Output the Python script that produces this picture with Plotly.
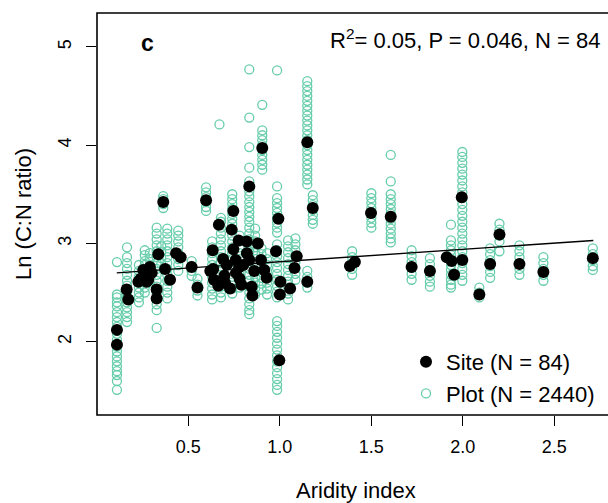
import plotly.graph_objects as go

# ---- Site means (black dots) ----
site_x = [0.11, 0.11, 0.163, 0.172, 0.227, 0.254, 0.263, 0.281, 0.272, 0.29,
          0.327, 0.327, 0.336, 0.363, 0.373, 0.40, 0.433, 0.458, 0.518, 0.55,
          0.597, 0.633, 0.636, 0.64, 0.664, 0.667, 0.69, 0.697, 0.728, 0.737,
          0.746, 0.746, 0.759, 0.775, 0.778, 0.78, 0.79, 0.819, 0.833, 0.833,
          0.846, 0.85, 0.88, 0.897, 0.904, 0.915, 0.928, 0.979, 0.992, 0.997,
          1.003, 1.0, 1.056, 1.08, 1.092, 1.15, 1.15, 1.18, 1.383, 1.41,
          1.498, 1.606, 1.72, 1.82, 1.912, 1.939, 1.952, 1.997, 1.994, 2.09,
          2.149, 2.2, 2.309, 2.44, 2.71, 0.62, 0.70, 0.76, 0.80, 0.86,
          0.30, 0.24, 0.71, 0.82]
site_y = [2.12, 1.97, 2.53, 2.43, 2.61, 2.73, 2.70, 2.63, 2.61, 2.76,
          2.53, 2.44, 2.89, 3.42, 2.74, 2.63, 2.90, 2.86, 2.76, 2.55,
          3.44, 2.93, 2.74, 2.63, 2.57, 3.19, 2.84, 2.67, 2.54, 3.14,
          3.33, 2.94, 2.83, 3.03, 2.76, 2.64, 2.58, 3.02, 3.58, 2.83,
          2.56, 2.47, 3.00, 2.83, 3.97, 2.73, 2.65, 2.92, 3.25, 1.81,
          2.61, 2.48, 2.54, 2.75, 2.87, 4.03, 2.61, 3.36, 2.77, 2.81,
          3.31, 3.27, 2.76, 2.72, 2.86, 2.82, 2.68, 2.83, 3.47, 2.48,
          2.79, 3.09, 2.79, 2.71, 2.85, 2.72, 2.60, 2.70, 2.78, 2.72,
          2.70, 2.64, 2.78, 2.90]

# ---- Plot-level values (green open circles), grouped by column ----
plot_col_x = [0.11, 0.165, 0.23, 0.262, 0.29, 0.327, 0.352, 0.363, 0.385,
              0.445, 0.518, 0.55, 0.597, 0.63, 0.67, 0.678, 0.74, 0.78,
              0.833, 0.865, 0.904, 0.90, 0.93, 0.985, 1.045, 1.085, 1.15,
              1.15, 1.18, 1.395, 1.50, 1.606, 1.72, 1.82, 1.935, 1.997,
              2.09, 2.149, 2.2, 2.309, 2.44, 2.71]
plot_col_y = [
    [2.81, 2.48, 2.45, 2.40, 2.36, 2.30, 2.25, 2.20, 2.15, 2.08, 2.02, 1.95,
     1.90, 1.85, 1.80, 1.75, 1.70, 1.66, 1.60, 1.51],
    [2.96, 2.86, 2.80, 2.74, 2.68, 2.62, 2.57, 2.50, 2.45, 2.40, 2.35, 2.30,
     2.25, 2.20],
    [2.78, 2.72, 2.66, 2.60, 2.55, 2.50, 2.45, 2.40],
    [2.93, 2.88, 2.82, 2.78, 2.72, 2.66, 2.60, 2.55, 2.50],
    [2.90, 2.84, 2.78, 2.72, 2.66, 2.60],
    [3.16, 3.10, 3.04, 2.98, 2.92, 2.86, 2.80, 2.74, 2.68, 2.62, 2.56, 2.50,
     2.44, 2.38, 2.32, 2.14],
    [2.97, 2.91, 2.85, 2.79],
    [3.48, 3.45, 3.40, 3.36],
    [3.15, 3.10, 3.04, 2.98, 2.92, 2.86, 2.80, 2.74, 2.68, 2.62, 2.56, 2.50,
     2.44],
    [3.13, 3.08, 3.02, 2.96, 2.90, 2.84, 2.78, 2.72],
    [2.82, 2.77, 2.72, 2.67],
    [2.64, 2.58, 2.52, 2.47],
    [3.57, 3.52, 3.47, 3.42, 3.37, 3.33],
    [3.02, 2.96, 2.90, 2.84, 2.78, 2.72, 2.66, 2.60, 2.54, 2.48, 2.43],
    [4.21],
    [3.26, 3.22, 3.16, 3.10, 3.04, 2.98, 2.92, 2.86, 2.80, 2.74, 2.68, 2.62,
     2.56, 2.50, 2.45],
    [3.50, 3.45, 3.40, 3.35, 3.30, 3.25, 3.20, 3.14, 3.08, 3.02, 2.96, 2.90,
     2.84, 2.78, 2.72, 2.66, 2.60, 2.54, 2.49],
    [3.08, 3.02, 2.96, 2.90, 2.84, 2.78, 2.72, 2.66, 2.60, 2.55],
    [4.77, 4.28, 3.98, 3.77, 3.63, 3.58, 3.53, 3.48, 3.42, 3.37, 3.32, 3.27,
     3.22, 3.16, 3.10, 3.04, 2.98, 2.92, 2.86, 2.80, 2.74, 2.68, 2.62, 2.56,
     2.50, 2.44, 2.38, 2.32, 2.28],
    [3.15, 3.08, 3.02, 2.96, 2.90, 2.84, 2.78, 2.72, 2.66, 2.60, 2.54, 2.48],
    [4.41, 4.15, 4.10, 4.05, 4.00, 3.95, 3.90, 3.85, 3.80, 3.75],
    [2.95, 2.89, 2.83, 2.77, 2.71, 2.65, 2.59, 2.53],
    [2.90, 2.84, 2.78, 2.72, 2.66, 2.60, 2.54, 2.48],
    [4.76, 3.58, 3.46, 3.41, 3.36, 3.31, 3.26, 3.21, 3.16, 3.11, 2.99, 2.93,
     2.87, 2.81, 2.75, 2.69, 2.63, 2.57, 2.51, 2.45, 2.21, 2.16, 2.10, 2.04,
     1.98, 1.92, 1.86, 1.80, 1.74, 1.68, 1.62, 1.56, 1.51],
    [3.03, 2.97, 2.91, 2.85, 2.79, 2.73, 2.67, 2.61, 2.55, 2.49, 2.43],
    [3.05, 2.99, 2.93, 2.87, 2.81, 2.75, 2.69, 2.63],
    [4.65, 4.60, 4.55, 4.50, 4.45, 4.40, 4.35, 4.30, 4.25, 4.20, 4.15, 4.10,
     4.05, 4.00, 3.95, 3.90, 3.85, 3.80, 3.75, 3.70, 3.65, 3.60],
    [2.72, 2.66, 2.60, 2.55],
    [3.49, 3.44, 3.39, 3.34, 3.29, 3.24, 3.20],
    [2.92, 2.86, 2.80, 2.74, 2.68],
    [3.51, 3.46, 3.41, 3.36, 3.31, 3.26, 3.21, 3.16],
    [3.90, 3.63, 3.50, 3.45, 3.40, 3.35, 3.30, 3.25, 3.20, 3.15, 3.10, 3.05,
     3.01],
    [2.93, 2.87, 2.81, 2.75, 2.69, 2.63],
    [2.85, 2.79, 2.73, 2.67, 2.61, 2.56],
    [3.19, 3.03, 2.98, 2.93, 2.88, 2.83, 2.78, 2.73, 2.68, 2.63, 2.58, 2.55],
    [3.93, 3.88, 3.82, 3.76, 3.70, 3.64, 3.58, 3.52, 3.46, 3.40, 3.34, 3.28,
     3.22, 3.16, 3.10, 3.04, 2.98, 2.92, 2.86, 2.80, 2.74, 2.68, 2.62],
    [2.55, 2.50, 2.45],
    [2.95, 2.89, 2.83, 2.77, 2.71, 2.65],
    [3.20, 3.14, 3.08, 3.02, 2.92],
    [2.98, 2.92, 2.86, 2.80, 2.74, 2.68],
    [2.86, 2.80, 2.74, 2.68, 2.62],
    [2.95, 2.89, 2.83, 2.77, 2.73],
]

# ---- Regression line end points ----
fit_x = [0.109, 2.713]
fit_y = [2.70, 3.03]

x_ticks = [0.5, 1.0, 1.5, 2.0, 2.5]
x_tick_text = ["0.5", "1.0", "1.5", "2.0", "2.5"]
y_ticks = [2, 3, 4, 5]
y_tick_text = ["2", "3", "4", "5"]

plot_x, plot_y = [], []
for cx, ys in zip(plot_col_x, plot_col_y):
    for v in ys:
        plot_x.append(cx)
        plot_y.append(v)

FONT = "Liberation Sans, Arial, sans-serif"
GREEN = "#66CDAA"

fig = go.Figure()
fig.add_trace(go.Scatter(
    x=plot_x, y=plot_y, mode="markers", name="Plot (N = 2440)",
    marker=dict(symbol="circle-open", size=9, color=GREEN,
                line=dict(width=1.3, color=GREEN)),
    legendrank=2))
fig.add_trace(go.Scatter(
    x=fit_x, y=fit_y, mode="lines", showlegend=False,
    line=dict(color="black", width=1.4)))
fig.add_trace(go.Scatter(
    x=site_x, y=site_y, mode="markers", name="Site (N = 84)",
    marker=dict(symbol="circle", size=12, color="black"),
    legendrank=1))

fig.update_layout(
    width=608, height=503,
    margin=dict(l=97, r=0, t=13, b=88),
    paper_bgcolor="white", plot_bgcolor="white",
    font=dict(family=FONT, size=18, color="black"),
    showlegend=True,
    legend=dict(x=(406 - 97) / 511, y=0.0, xanchor="left",
                yanchor="bottom", bgcolor="rgba(0,0,0,0)",
                font=dict(family=FONT, size=22, color="black"),
                itemwidth=30, tracegroupgap=0),
    xaxis=dict(range=[0.001, 2.793], tickvals=x_ticks, ticktext=x_tick_text,
               ticks="outside", ticklen=10, tickwidth=1.3, tickcolor="black",
               showgrid=False, zeroline=False, showline=False,
               tickfont=dict(size=18), ticklabelstandoff=5),
    yaxis=dict(range=[1.254, 5.344], tickvals=y_ticks, ticktext=y_tick_text,
               ticks="outside", ticklen=10, tickwidth=1.3, tickcolor="black",
               showgrid=False, zeroline=False, showline=False,
               tickangle=-90, tickfont=dict(size=18), ticklabelstandoff=8),
    shapes=[dict(type="rect", xref="paper", yref="paper", x0=0, x1=1.1,
                 y0=0, y1=1, line=dict(color="black", width=1.6),
                 fillcolor="rgba(0,0,0,0)", layer="above")],
    annotations=[
        dict(text="Aridity index", xref="paper", yref="paper",
             x=(356 - 97) / 511, y=-(490 - 415) / 402, xanchor="center",
             yanchor="middle", showarrow=False, font=dict(size=22)),
        dict(text="Ln (C:N ratio)", xref="paper", yref="paper",
             x=-(97 - 23) / 511, y=0.5, xanchor="center", yanchor="middle",
             textangle=-90, showarrow=False, font=dict(size=22)),
        dict(text="<b>c</b>", xref="paper", yref="paper",
             x=(147 - 97) / 511, y=(415 - 43) / 402, xanchor="center",
             yanchor="middle", showarrow=False, font=dict(size=23)),
        dict(text="R<sup>2</sup>= 0.05, P = 0.046, N = 84", xref="paper",
             yref="paper", x=(603 - 97) / 511, y=(415 - 39) / 402,
             xanchor="right", yanchor="middle", showarrow=False,
             font=dict(size=22)),
    ],
)

fig.write_html("out.html")
